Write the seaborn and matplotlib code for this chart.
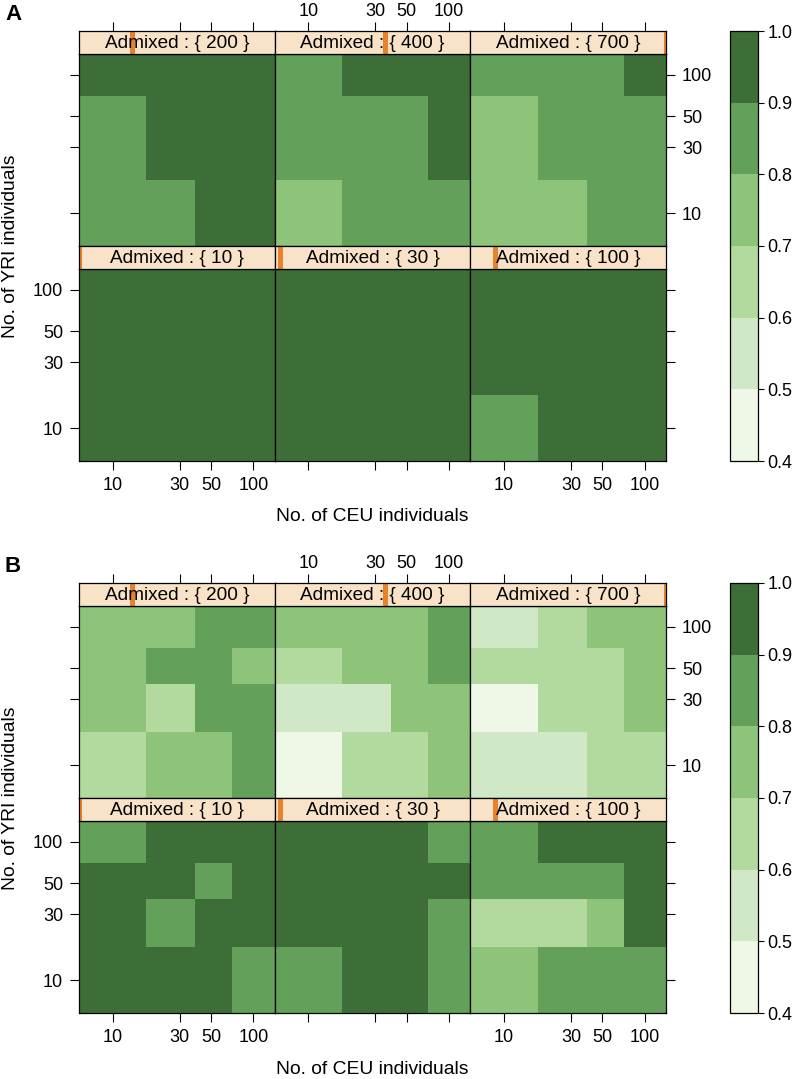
import numpy as np
import matplotlib
matplotlib.use("Agg")
import matplotlib.pyplot as plt
from matplotlib.colors import ListedColormap
from matplotlib.patches import Rectangle
import seaborn as sns

sns.set_style("ticks")
plt.rcParams["font.family"] = ["Liberation Sans", "DejaVu Sans"]
plt.rcParams["text.color"] = "black"
plt.rcParams["xtick.color"] = "black"
plt.rcParams["ytick.color"] = "black"

# Axis values (log scale in the original lattice levelplot)
ceu = [10, 30, 50, 100]
yri = [10, 30, 50, 100]
admixed_top = [200, 400, 700]
admixed_bottom = [10, 30, 100]
admixed_all = [10, 30, 100, 200, 400, 700]
levels = [0.4, 0.5, 0.6, 0.7, 0.8, 0.9, 1.0]
level_colors = ["#EFF7E7", "#D0E8C5", "#B3DA9E", "#8EC47A", "#63A15B", "#3D6E37"]

# Matrices: rows = YRI 100, 50, 30, 10 (top to bottom), cols = CEU 10, 30, 50, 100
a_200 = [[.95, .96, .97, .98], [.86, .93, .95, .97], [.84, .92, .94, .96], [.82, .87, .92, .95]]
a_400 = [[.88, .93, .95, .96], [.84, .87, .89, .93], [.83, .86, .88, .92], [.76, .84, .86, .89]]
a_700 = [[.85, .88, .89, .93], [.77, .83, .86, .88], [.75, .82, .84, .87], [.72, .78, .82, .85]]
a_10 = [[.99, .99, 1.0, 1.0], [.99, .99, .99, 1.0], [.98, .99, .99, .99], [.96, .97, .98, .99]]
a_30 = [[.99, .99, .99, 1.0], [.98, .99, .99, .99], [.97, .98, .99, .99], [.95, .96, .97, .98]]
a_100 = [[.98, .99, .99, .99], [.97, .98, .99, .99], [.94, .96, .97, .98], [.87, .92, .94, .96]]

b_200 = [[.76, .78, .83, .86], [.74, .82, .84, .79], [.72, .68, .81, .83], [.66, .71, .74, .81]]
b_400 = [[.73, .76, .78, .82], [.64, .71, .74, .81], [.56, .58, .72, .76], [.47, .63, .66, .74]]
b_700 = [[.57, .64, .71, .73], [.62, .66, .68, .72], [.46, .63, .65, .71], [.54, .58, .62, .66]]
b_10 = [[.86, .92, .94, .95], [.91, .93, .88, .94], [.92, .87, .93, .95], [.93, .94, .92, .89]]
b_30 = [[.93, .95, .94, .88], [.94, .96, .95, .93], [.92, .94, .93, .87], [.86, .92, .91, .84]]
b_100 = [[.89, .93, .95, .96], [.84, .86, .88, .92], [.67, .68, .74, .91], [.77, .83, .85, .87]]

groups = [
    ("A", [a_200, a_400, a_700], [a_10, a_30, a_100]),
    ("B", [b_200, b_400, b_700], [b_10, b_30, b_100]),
]

W, H = 797, 1079
fig = plt.figure(figsize=(W / 100, H / 100), dpi=100)
cmap = ListedColormap(level_colors)
strip_bg = "#F8E2C8"
strip_mark = "#E8822A"


def box(x0, y0, x1, y1):
    # pixel box (top-left origin) -> figure fraction rect
    return [x0 / W, 1 - y1 / H, (x1 - x0) / W, (y1 - y0) / H]


def cell_edges(vals):
    # levelplot cells span half-way to the neighbours in log space
    c = np.log10(vals)
    mid = (c[:-1] + c[1:]) / 2
    return np.concatenate([[c[0] - (c[1] - c[0]) / 2], mid, [c[-1] + (c[-1] - c[-2]) / 2]])


idx = np.arange(len(ceu) + 1)
ex, ey = cell_edges(ceu), cell_edges(yri)
fx = (lambda v: np.interp(v, idx, ex), lambda v: np.interp(v, ex, idx))
fy = (lambda v: np.interp(v, idx, ey), lambda v: np.interp(v, ey, idx))
xt = np.interp(np.log10(ceu), ex, idx)
yt = np.interp(np.log10(yri), ey, idx)

tick_len = 6.5
fs_tick = 13
fs_strip = 13.7
fs_lab = 13.9

col_x = [79, 274.7, 470.3, 666]
strip_h, data_h = 23, 192

for g, (letter, top_mats, bot_mats) in enumerate(groups):
    y0 = 31 + 552 * g
    rows = [(top_mats, admixed_top), (bot_mats, admixed_bottom)]
    mesh = None
    for r, (mats, adm) in enumerate(rows):
        ys = y0 + r * (strip_h + data_h)
        for c in range(3):
            ax = fig.add_axes(box(col_x[c], ys + strip_h, col_x[c + 1], ys + strip_h + data_h))
            sns.heatmap(np.flipud(np.array(mats[c])), ax=ax, cmap=cmap, vmin=0.4, vmax=1.0,
                        cbar=False, xticklabels=False, yticklabels=False, linewidths=0)
            mesh = ax.collections[0]
            ax.set_xscale("function", functions=fx)
            ax.set_yscale("function", functions=fy)
            ax.set_xlim(0, 4)
            ax.set_ylim(0, 4)
            ax.set_xlabel("")
            ax.set_ylabel("")
            for s in ax.spines.values():
                s.set_visible(True)
                s.set_color("black")
                s.set_linewidth(0.9)
            ax.set_xticks(xt)
            ax.set_xticklabels([str(v) for v in ceu])
            ax.set_yticks(yt)
            ax.set_yticklabels([str(v) for v in yri])
            ax.xaxis.set_minor_locator(plt.NullLocator())
            ax.yaxis.set_minor_locator(plt.NullLocator())
            ax.tick_params(axis="both", direction="out", length=tick_len, width=0.8,
                           labelsize=fs_tick, pad=5, colors="black")
            ax.tick_params(axis="x", top=False, labeltop=False,
                           bottom=(r == 1), labelbottom=(r == 1 and c != 1))
            ax.tick_params(axis="y", left=(c == 0), labelleft=(c == 0 and r == 1),
                           right=(c == 2), labelright=(c == 2 and r == 0))

            # strip with level marker
            sx = fig.add_axes(box(col_x[c], ys, col_x[c + 1], ys + strip_h))
            sx.set_facecolor(strip_bg)
            sx.set_xscale("function", functions=fx)
            sx.set_xlim(0, 4)
            sx.set_ylim(0, 1)
            frac = (adm[c] - min(admixed_all)) / (max(admixed_all) - min(admixed_all))
            w = 5 / (col_x[1] - col_x[0])
            sx.add_patch(Rectangle((frac - w / 2, 0), w, 1, transform=sx.transAxes,
                                   color=strip_mark, lw=0, zorder=1))
            sx.text(0.5, 0.46, "Admixed : { %d }" % adm[c], transform=sx.transAxes,
                    ha="center", va="center", fontsize=fs_strip, zorder=2)
            for s in sx.spines.values():
                s.set_visible(True)
                s.set_color("black")
                s.set_linewidth(0.9)
            sx.set_yticks([])
            sx.yaxis.set_minor_locator(plt.NullLocator())
            sx.xaxis.set_minor_locator(plt.NullLocator())
            if r == 0:
                sx.set_xticks(xt)
                sx.set_xticklabels([str(v) for v in ceu])
                sx.tick_params(axis="x", top=True, labeltop=(c == 1), bottom=False,
                               labelbottom=False, direction="out", length=tick_len,
                               width=0.8, labelsize=fs_tick, pad=1.5, colors="black")
            else:
                sx.set_xticks([])

    # colour key
    cax = fig.add_axes(box(730, y0, 758, y0 + 2 * (strip_h + data_h)))
    cb = fig.colorbar(mesh, cax=cax, ticks=levels)
    cb.ax.yaxis.set_major_formatter("{x:.1f}")
    cb.ax.tick_params(direction="out", length=4, width=0.8, labelsize=fs_tick, pad=3,
                      colors="black")
    cb.outline.set_linewidth(0.9)
    cb.outline.set_edgecolor("black")

    # labels
    fig.text(5 / W, 1 - (y0 - 16) / H, letter, fontsize=16, fontweight="bold",
             ha="left", va="center")
    fig.text(372.5 / W, 1 - (y0 + 486) / H, "No. of CEU individuals", fontsize=fs_lab,
             ha="center", va="center")
    fig.text(11 / W, 1 - (y0 + 215) / H, "No. of YRI individuals", fontsize=fs_lab,
             ha="center", va="center", rotation=90)

fig.savefig("out.png", dpi=100)
